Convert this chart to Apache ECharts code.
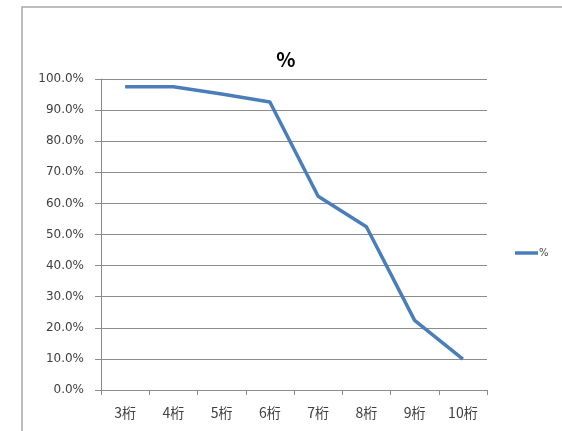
<!DOCTYPE html>
<html>
<head>
<meta charset="utf-8">
<script src="https://cdn.jsdelivr.net/npm/echarts@6/dist/echarts.min.js"></script>
<style>
  html, body { margin: 0; padding: 0; background: #ffffff; }
  #chart { width: 562px; height: 431px; }
</style>
</head>
<body>
<div id="chart"></div>
<script>
// Share by digit count
const categories = ['3桁', '4桁', '5桁', '6桁', '7桁', '8桁', '9桁', '10桁'];
const percentValues = [97.5, 97.5, 95.2, 92.6, 62.3, 52.5, 22.4, 9.9];
const seriesName = '%';
const chartTitle = '%';

const axisGray = '#8c8c8c';
const labelColor = '#404040';
const cjkFont = '"Noto Sans CJK JP", "Noto Sans", sans-serif';
const numFont = '"DejaVu Sans", "Noto Sans", sans-serif';

const chart = echarts.init(document.getElementById('chart'), null, { renderer: 'canvas' });

chart.setOption({
  backgroundColor: '#ffffff',
  animation: false,
  graphic: [{
    type: 'rect',
    shape: { x: 22, y: 7, width: 600, height: 500 },
    style: { fill: 'none', stroke: '#a8a8a8', lineWidth: 1.5 },
    silent: true,
    z: -1
  }],
  title: {
    text: chartTitle,
    left: 281,
    textAlign: 'center',
    top: 44,
    textStyle: { fontFamily: cjkFont, fontSize: 20, fontWeight: 'bold', color: '#000000' }
  },
  legend: {
    data: [{ name: seriesName, icon: 'rect' }],
    left: 510,
    top: 243,
    itemWidth: 23,
    itemHeight: 3.5,
    itemGap: 2,
    textStyle: { fontFamily: numFont, fontSize: 10, color: labelColor, padding: [0, 0, 0, -4] }
  },
  grid: { left: 101, right: 75, top: 79, bottom: 41, containLabel: false },
  xAxis: {
    type: 'category',
    data: categories,
    boundaryGap: true,
    axisLine: { show: true, lineStyle: { color: axisGray, width: 1 } },
    axisTick: { show: true, interval: 0, length: 5, lineStyle: { color: axisGray } },
    axisLabel: { interval: 0, margin: 16, fontFamily: cjkFont, fontSize: 14, color: labelColor },
    splitLine: { show: false }
  },
  yAxis: {
    type: 'value',
    min: 0,
    max: 100,
    interval: 10,
    axisLine: { show: true, lineStyle: { color: axisGray, width: 1 } },
    axisTick: { show: true, length: 6, lineStyle: { color: axisGray } },
    axisLabel: {
      margin: 17,
      fontFamily: numFont,
      fontSize: 12,
      color: labelColor,
      formatter: v => v.toFixed(1) + '%'
    },
    splitLine: { show: true, lineStyle: { color: axisGray, width: 1 } }
  },
  series: [{
    name: seriesName,
    type: 'line',
    data: percentValues,
    symbol: 'none',
    lineStyle: { color: '#4a7ebb', width: 3.5, join: 'round' },
    itemStyle: { color: '#4a7ebb' }
  }]
});
</script>
</body>
</html>
